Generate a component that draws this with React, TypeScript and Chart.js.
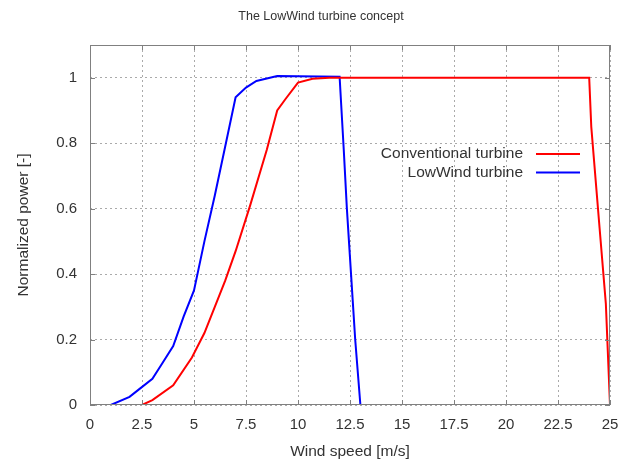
import React, { useEffect, useRef } from "react";
import { Chart, registerables } from "chart.js";

Chart.register(...registerables);

const titleText = "The LowWind turbine concept";
const xTitle = "Wind speed [m/s]";
const yTitle = "Normalized power [-]";

const convLabel = "Conventional turbine";
const convX = [2.5, 3, 4, 4.9, 5.5, 6.5, 7, 7.7, 8.5, 9, 9.4, 10, 10.7, 11.5, 24, 24.1, 24.5, 24.8, 25];
const convY = [0, 0.015, 0.06, 0.145, 0.22, 0.38, 0.47, 0.61, 0.78, 0.9, 0.935, 0.985, 0.997, 1.0, 1.0, 0.85, 0.54, 0.31, 0];

const lowLabel = "LowWind turbine";
const lowX = [1, 1.9, 2.4, 3, 3.5, 4, 4.5, 5, 5.5, 6, 6.5, 7, 7.5, 8, 9, 12, 12.2, 12.35, 12.55, 12.75, 13];
const lowY = [0, 0.025, 0.05, 0.08, 0.13, 0.18, 0.27, 0.35, 0.5, 0.64, 0.79, 0.94, 0.97, 0.99, 1.005, 1.003, 0.78, 0.6, 0.4, 0.2, 0];

const xTicks = [0, 2.5, 5, 7.5, 10, 12.5, 15, 17.5, 20, 22.5, 25];
const yTicks = [0, 0.2, 0.4, 0.6, 0.8, 1];

const FONT = "'Liberation Sans', Arial, sans-serif";

const toPts = (xs: number[], ys: number[]) => xs.map((x, i) => ({ x, y: ys[i] }));

const framePlugin = {
  id: "frame",
  afterDraw(chart: any) {
    const { ctx, chartArea: a, scales } = chart;
    ctx.save();
    ctx.strokeStyle = "#808080";
    ctx.lineWidth = 1;
    ctx.strokeRect(a.left + 0.5, a.top + 0.5, a.right - a.left - 1, a.bottom - a.top - 1);
    const L = 5;
    ctx.beginPath();
    xTicks.forEach((t) => {
      const px = Math.round(scales.x.getPixelForValue(t)) + 0.5;
      ctx.moveTo(px, a.bottom);
      ctx.lineTo(px, a.bottom - L);
      ctx.moveTo(px, a.top);
      ctx.lineTo(px, a.top + L);
    });
    yTicks.forEach((t) => {
      const py = Math.round(scales.y.getPixelForValue(t)) + 0.5;
      ctx.moveTo(a.left, py);
      ctx.lineTo(a.left + L, py);
      ctx.moveTo(a.right, py);
      ctx.lineTo(a.right - L, py);
    });
    ctx.stroke();

    // title
    ctx.fillStyle = "#333";
    ctx.font = `12.5px ${FONT}`;
    ctx.textAlign = "center";
    ctx.textBaseline = "middle";
    ctx.fillText(titleText, 321, 17);

    // legend inside plot
    ctx.font = `15.5px ${FONT}`;
    ctx.textAlign = "right";
    ctx.textBaseline = "middle";
    const rows = [
      { label: chart.data.datasets[0].label, color: chart.data.datasets[0].borderColor, y: 154 },
      { label: chart.data.datasets[1].label, color: chart.data.datasets[1].borderColor, y: 172.5 },
    ];
    rows.forEach((r) => {
      ctx.fillStyle = "#333";
      ctx.fillText(r.label, 523, r.y);
      ctx.strokeStyle = r.color;
      ctx.lineWidth = 2;
      ctx.beginPath();
      ctx.moveTo(536, r.y);
      ctx.lineTo(580, r.y);
      ctx.stroke();
    });
    ctx.restore();
  },
};

export default function App() {
  const ref = useRef<HTMLCanvasElement>(null);
  useEffect(() => {
    if (!ref.current) return;
    const chart = new Chart(ref.current, {
      type: "scatter",
      data: {
        datasets: [
          {
            label: convLabel,
            data: toPts(convX, convY),
            showLine: true,
            borderColor: "#ff0000",
            backgroundColor: "#ff0000",
            borderWidth: 2,
            pointRadius: 0,
            tension: 0,
          },
          {
            label: lowLabel,
            data: toPts(lowX, lowY),
            showLine: true,
            borderColor: "#0000ff",
            backgroundColor: "#0000ff",
            borderWidth: 2,
            pointRadius: 0,
            tension: 0,
          },
        ],
      },
      options: {
        animation: false,
        responsive: false,
        maintainAspectRatio: false,
        layout: { padding: { left: 0, right: 11, top: 45, bottom: 0 } },
        plugins: {
          legend: { display: false },
          tooltip: { enabled: false },
          title: { display: false },
        },
        scales: {
          x: {
            type: "linear",
            min: 0,
            max: 25,
            afterBuildTicks: (s: any) => {
              s.ticks = xTicks.map((v) => ({ value: v }));
            },
            afterFit: (s: any) => {
              s.height = 58;
              s.paddingLeft = 0;
              s.paddingRight = 0;
            },
            ticks: {
              color: "#333",
              font: { family: FONT, size: 15 },
              padding: 11,
              maxRotation: 0,
              autoSkip: false,
              callback: (v: any) => String(v),
            },
            grid: {
              color: "#aaa",
              drawTicks: false,
            },
            border: { display: false, dash: [2, 3] },
            title: {
              display: true,
              text: xTitle,
              color: "#333",
              font: { family: FONT, size: 15.5 },
              padding: { top: 6, bottom: 2 },
            },
          },
          y: {
            type: "linear",
            min: 0,
            max: 1.1,
            afterBuildTicks: (s: any) => {
              s.ticks = yTicks.map((v) => ({ value: v }));
            },
            afterFit: (s: any) => {
              s.width = 90;
              s.paddingTop = 0;
              s.paddingBottom = 0;
            },
            ticks: {
              color: "#333",
              font: { family: FONT, size: 15 },
              padding: 13,
              autoSkip: false,
              callback: (v: any) => String(v),
            },
            grid: {
              color: "#aaa",
              drawTicks: false,
            },
            border: { display: false, dash: [2, 3] },
            title: {
              display: true,
              text: yTitle,
              color: "#333",
              font: { family: FONT, size: 15.5 },
              padding: { top: 14, bottom: 0 },
            },
          },
        },
      },
      plugins: [framePlugin],
    });
    return () => chart.destroy();
  }, []);
  return (
    <div style={{ position: "absolute", left: 0, top: 0, width: 621, height: 463, background: "#fff" }}>
      <canvas ref={ref} width={621} height={463} style={{ width: 621, height: 463 }} />
    </div>
  );
}
